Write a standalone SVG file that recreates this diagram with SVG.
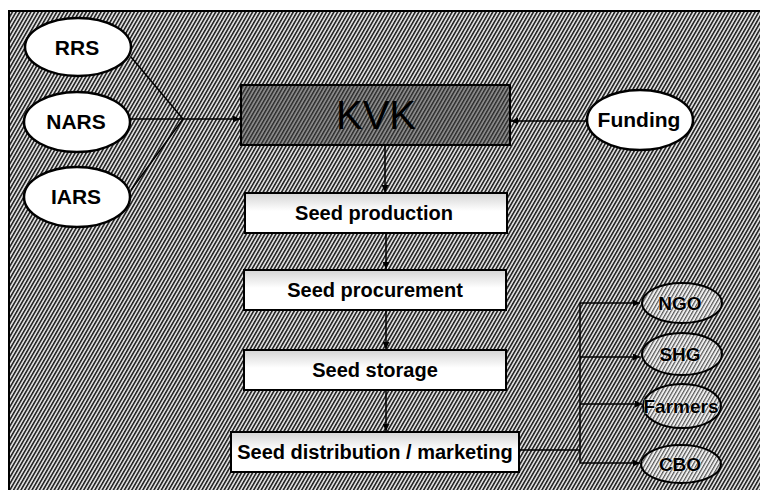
<svg xmlns="http://www.w3.org/2000/svg" width="760" height="490" viewBox="0 0 760 490">
  <defs>
    <pattern id="hatch" width="3.2" height="10" patternUnits="userSpaceOnUse" patternTransform="rotate(30)">
      <rect width="3.2" height="10" fill="#dcdcdc"/>
      <rect width="1.5" height="10" fill="#1e1e1e"/>
    </pattern>
    <pattern id="hatchDark" width="3.2" height="10" patternUnits="userSpaceOnUse" patternTransform="rotate(30)">
      <rect width="3.2" height="10" fill="#8a8a8a"/>
      <rect width="1.4" height="10" fill="#2a2a2a"/>
    </pattern>
    <pattern id="hatchLight" width="3.2" height="10" patternUnits="userSpaceOnUse" patternTransform="rotate(30)">
      <rect width="3.2" height="10" fill="#f0f0f0"/>
      <rect width="1.2" height="10" fill="#555"/>
    </pattern>
    <linearGradient id="boxFill" x1="0" y1="0" x2="0" y2="1">
      <stop offset="0" stop-color="#d4d4d4"/>
      <stop offset="0.45" stop-color="#ffffff"/>
      <stop offset="1" stop-color="#ffffff"/>
    </linearGradient>
    <marker id="arr" viewBox="0 0 10 10" refX="10" refY="5" markerWidth="7" markerHeight="7" markerUnits="userSpaceOnUse" orient="auto">
      <path d="M0,0 L10,5 L0,10 z" fill="#000"/>
    </marker>
    <style>
      .big { fill: #fff; stroke: #000; stroke-width: 2.5; }
      .small { fill: url(#hatchLight); stroke: #000; stroke-width: 2; }
      .box { fill: url(#boxFill); stroke: #000; stroke-width: 2; }
      .lbl { font-family: "Liberation Sans", Arial, sans-serif; font-weight: bold; font-size: 21px; text-anchor: middle; fill: #000; }
      .blbl { font-family: "Liberation Sans", Arial, sans-serif; font-weight: bold; font-size: 20px; text-anchor: middle; fill: #000; }
      .slbl { font-family: "Liberation Sans", Arial, sans-serif; font-weight: bold; font-size: 19px; text-anchor: middle; fill: #000; stroke: #fff; stroke-width: 0.6; paint-order: stroke; }
      .con { fill: none; stroke: #000; stroke-width: 1.5; }
    </style>
  </defs>

  <rect x="0" y="0" width="760" height="490" fill="#fff"/>
  <rect x="9" y="11" width="760" height="490" fill="url(#hatch)" stroke="#000" stroke-width="2"/>

  <g id="connectors">
    <line class="con" x1="131" y1="57" x2="183" y2="119"/>
    <line class="con" x1="130" y1="119" x2="183" y2="119"/>
    <line class="con" x1="131" y1="190" x2="183" y2="119"/>
    <line class="con" x1="183" y1="119" x2="240" y2="119" marker-end="url(#arr)"/>
    <line class="con" x1="587" y1="121" x2="511" y2="121" marker-end="url(#arr)"/>
    <line class="con" x1="385" y1="146" x2="385" y2="192" marker-end="url(#arr)"/>
    <line class="con" x1="386" y1="234" x2="386" y2="269" marker-end="url(#arr)"/>
    <line class="con" x1="386" y1="311" x2="386" y2="349" marker-end="url(#arr)"/>
    <line class="con" x1="386" y1="391" x2="386" y2="431" marker-end="url(#arr)"/>
    <polyline class="con" points="519,450 580,450"/>
    <line class="con" x1="580" y1="303" x2="580" y2="463"/>
    <line class="con" x1="580" y1="303" x2="640" y2="303" marker-end="url(#arr)"/>
    <line class="con" x1="580" y1="357" x2="640" y2="357" marker-end="url(#arr)"/>
    <line class="con" x1="580" y1="404" x2="642" y2="404" marker-end="url(#arr)"/>
    <line class="con" x1="580" y1="463" x2="640" y2="463" marker-end="url(#arr)"/>
  </g>

  <g id="RRS">
    <ellipse class="big" cx="78" cy="47" rx="53" ry="29"/>
    <text class="lbl" x="77" y="55">RRS</text>
  </g>
  <g id="NARS">
    <ellipse class="big" cx="77" cy="122" rx="53" ry="30"/>
    <text class="lbl" x="76" y="129">NARS</text>
  </g>
  <g id="IARS">
    <ellipse class="big" cx="77" cy="197" rx="53" ry="30"/>
    <text class="lbl" x="76" y="204">IARS</text>
  </g>
  <g id="KVK">
    <rect x="241" y="85" width="269" height="60" fill="url(#hatchDark)" stroke="#000" stroke-width="2"/>
    <text x="376" y="129" font-family="Liberation Sans, Arial, sans-serif" font-size="40" text-anchor="middle" fill="#000">KVK</text>
  </g>
  <g id="Funding">
    <ellipse class="big" cx="640" cy="120" rx="53" ry="30"/>
    <text class="lbl" x="639" y="127">Funding</text>
  </g>
  <g id="SeedProduction">
    <rect class="box" x="245" y="193" width="262" height="40"/>
    <text class="blbl" x="374" y="220">Seed production</text>
  </g>
  <g id="SeedProcurement">
    <rect class="box" x="244" y="270" width="262" height="40"/>
    <text class="blbl" x="375" y="297">Seed procurement</text>
  </g>
  <g id="SeedStorage">
    <rect class="box" x="244" y="350" width="262" height="40"/>
    <text class="blbl" x="375" y="377">Seed storage</text>
  </g>
  <g id="SeedDistribution">
    <rect class="box" x="231" y="432" width="288" height="40"/>
    <text class="blbl" x="375" y="459">Seed distribution / marketing</text>
  </g>
  <g id="NGO">
    <ellipse class="small" cx="682" cy="303" rx="40" ry="20"/>
    <text class="slbl" x="680" y="310">NGO</text>
  </g>
  <g id="SHG">
    <ellipse class="small" cx="682" cy="354" rx="40" ry="21"/>
    <text class="slbl" x="680" y="361">SHG</text>
  </g>
  <g id="Farmers">
    <ellipse class="small" cx="682" cy="406" rx="39" ry="22"/>
    <text class="slbl" x="681" y="413">Farmers</text>
  </g>
  <g id="CBO">
    <ellipse class="small" cx="681" cy="464" rx="40" ry="19"/>
    <text class="slbl" x="680" y="471">CBO</text>
  </g>
</svg>
